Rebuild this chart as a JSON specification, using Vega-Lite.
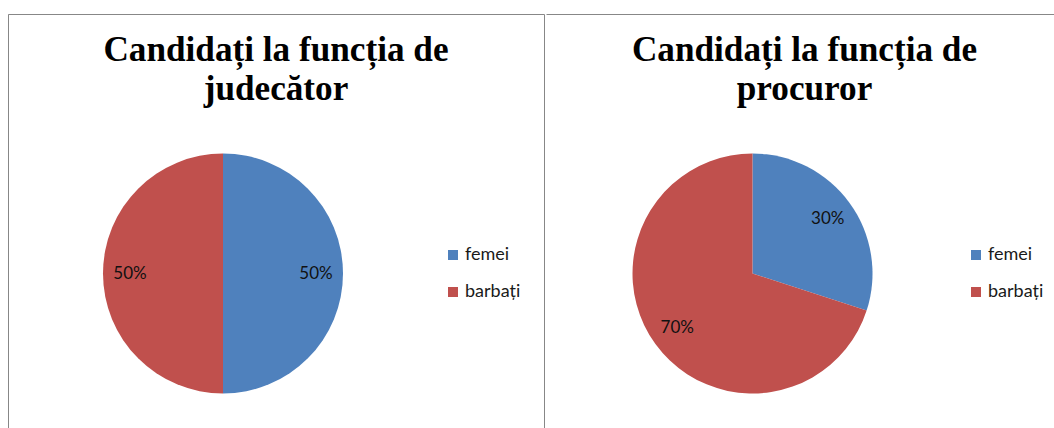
{
  "$schema": "https://vega.github.io/schema/vega-lite/v6.json",
  "padding": {"left": 7, "top": 13, "right": 0, "bottom": 0},
  "background": "white",
  "spacing": 0,
  "config": {
    "view": {"stroke": "#878787", "strokeWidth": 1},
    "concat": {"spacing": 0},
    "title": {"font": "Liberation Serif", "fontSize": 35.2, "fontWeight": "bold", "color": "#000000", "anchor": "middle", "frame": "group", "baseline": "alphabetic", "lineHeight": 38.5, "offset": -93},
    "legend": {"orient": "none", "padding": 0, "symbolType": "square", "symbolSize": 100, "symbolStrokeWidth": 0, "labelFont": "Lato", "labelFontSize": 18, "labelColor": "#1a1a1a", "labelOffset": 3, "rowPadding": 19, "title": null}
  },
  "resolve": {"scale": {"color": "independent", "theta": "independent"}, "legend": {"color": "independent"}},
  "hconcat": [
    {
      "width": 536,
      "height": 415,
      "view": {"stroke": "#878787", "strokeDash": [951, 536, 415]},
      "title": {"text": ["Candidați la funcția de", "judecător"], "dx": 0},
      "data": {"values": [
        {"gen": "femei", "share": 0.5, "ord": 1},
        {"gen": "barbați", "share": 0.5, "ord": 2}
      ]},
      "encoding": {
        "theta": {"field": "share", "type": "quantitative", "stack": true},
        "order": {"field": "ord", "type": "quantitative"},
        "color": {"field": "gen", "type": "nominal", "scale": {"domain": ["femei", "barbați"], "range": ["#4F81BD", "#C0504D"]}, "legend": {"legendX": 436, "legendY": 232}}
      },
      "layer": [
        {"mark": {"type": "arc", "x": 215, "y": 259.5, "radius": 120, "stroke": null}},
        {"mark": {"type": "text", "x": 215, "y": 259.5, "radius": 93, "font": "Lato", "fontSize": 17, "align": "center", "baseline": "middle"},
         "encoding": {"text": {"field": "share", "type": "quantitative", "format": ".0%"}, "color": {"value": "#111111"}}}
      ]
    },
    {
      "width": 511,
      "height": 415,
      "view": {"stroke": "#878787", "strokeDash": [511, 1341]},
      "title": {"text": ["Candidați la funcția de", "procuror"], "dx": 3},
      "data": {"values": [
        {"gen": "femei", "share": 0.3, "ord": 1},
        {"gen": "barbați", "share": 0.7, "ord": 2}
      ]},
      "encoding": {
        "theta": {"field": "share", "type": "quantitative", "stack": true},
        "order": {"field": "ord", "type": "quantitative"},
        "color": {"field": "gen", "type": "nominal", "scale": {"domain": ["femei", "barbați"], "range": ["#4F81BD", "#C0504D"]}, "legend": {"legendX": 421, "legendY": 232}}
      },
      "layer": [
        {"mark": {"type": "arc", "x": 206.5, "y": 259.5, "radius": 120, "stroke": null}},
        {"mark": {"type": "text", "x": 206.5, "y": 259.5, "radius": 93, "font": "Lato", "fontSize": 17, "align": "center", "baseline": "middle"},
         "encoding": {"text": {"field": "share", "type": "quantitative", "format": ".0%"}, "color": {"value": "#111111"}}}
      ]
    }
  ]
}
